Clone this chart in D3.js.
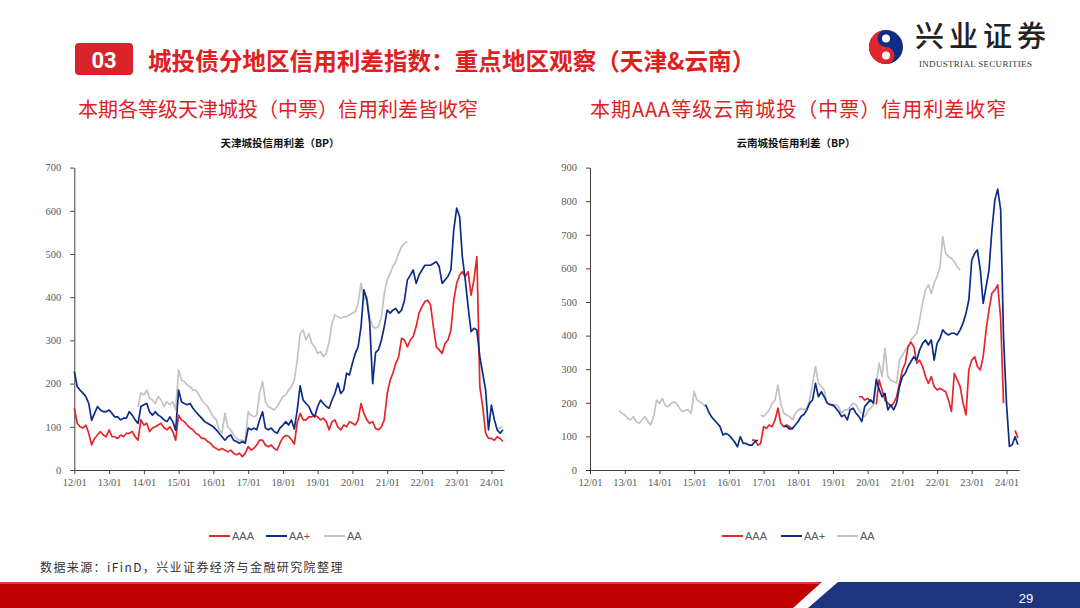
<!DOCTYPE html>
<html><head><meta charset="utf-8">
<script src="https://cdn.jsdelivr.net/npm/d3@7"></script>
<style>
html,body{margin:0;padding:0;background:#fff;}
svg{display:block;}
</style></head>
<body>
<svg id="s" width="1080" height="608"></svg>
<script>
// ---------- DATA ----------
const seriesNames = ["AAA","AA+","AA"];
const xTickLabels = ["12/01","13/01","14/01","15/01","16/01","17/01","18/01","19/01","20/01","21/01","22/01","23/01","24/01"];
const tjTicks = [0,100,200,300,400,500,600,700];
const ynTicks = [0,100,200,300,400,500,600,700,800,900];
const _ = null;
// monthly readings, Jan 2012 .. May 2024 (149 months)
const tjAAA = [143,108,100,97,104,85,58,73,81,89,81,77,
93,77,77,73,81,77,85,85,89,77,69,116,
104,108,89,97,100,104,108,97,93,100,89,69,
127,116,112,104,97,93,85,81,73,73,66,62,
54,50,46,50,46,42,46,39,35,39,31,39,
54,46,50,58,69,69,58,54,58,50,46,62,
75,80,78,70,60,110,131,116,116,123,123,127,
123,116,120,112,93,112,116,100,93,104,100,112,
108,104,116,154,131,116,108,112,96,93,100,116,
177,208,224,247,262,305,301,285,301,309,332,363,
378,390,393,382,332,285,278,270,293,301,324,393,
432,451,459,448,459,405,440,494,193,147,85,73,
73,69,77,73,66];
const tjAAp = [228,193,185,178,170,154,115,131,147,139,135,135,
139,131,123,123,116,120,120,135,127,116,108,147,
151,154,135,127,135,127,123,116,112,123,112,92,
185,158,154,151,154,143,135,127,120,112,108,104,
100,93,85,77,69,77,81,69,66,62,66,62,
97,93,97,93,116,135,97,93,97,89,85,97,
104,112,104,116,95,140,195,162,154,147,131,123,
147,162,154,147,143,162,177,201,177,185,224,220,
247,270,285,332,417,394,340,200,272,278,301,332,
370,363,370,374,363,370,393,440,451,463,432,451,
463,474,474,474,478,482,471,432,440,448,463,556,
606,586,494,440,378,320,328,324,262,224,185,93,
150,116,93,85,93];
const tjAA = [_,_,_,_,_,_,_,_,_,_,_,_,
_,_,_,_,_,_,_,_,_,_,147,178,
174,185,166,162,154,170,162,147,158,151,158,139,
232,208,205,197,193,185,185,174,162,154,147,135,
123,116,93,85,131,100,93,81,73,69,69,66,
135,127,123,127,178,205,158,147,143,139,147,158,
170,174,185,193,208,255,316,324,301,316,293,285,
270,274,262,270,295,340,359,355,351,355,355,359,
363,367,386,432,393,401,355,332,328,332,355,409,
440,455,471,482,502,517,525,529,_,_,_,_,
_,_,_,_,_,_,_,_,_,_,_,_,
_,_,_,_,_,_,_,_,_,_,_,_,
_,_,95,98,100];
const ynAAA = [_,_,_,_,_,_,_,_,_,_,_,_,
_,_,_,_,_,_,_,_,_,_,_,_,
_,_,_,_,_,_,_,_,_,_,_,_,
_,_,_,_,_,_,_,_,_,_,_,_,
_,_,_,_,_,_,_,_,89,89,74,79,
129,124,134,129,149,184,139,129,134,129,120,_,
_,_,_,_,_,_,_,_,_,_,_,_,
_,_,_,_,_,_,_,_,_,218,218,208,
213,203,_,195,268,238,208,199,189,199,218,258,
298,318,367,380,367,318,327,308,278,258,278,248,
238,243,238,233,208,174,288,268,248,199,164,298,
327,337,308,298,337,417,476,526,536,551,450,199,
_,_,_,118,95];
const ynAAp = [_,_,_,_,_,_,_,_,_,_,_,_,
_,_,_,_,_,_,_,_,_,_,_,_,
_,_,_,_,_,_,_,_,_,_,_,_,
_,_,_,_,195,174,159,149,139,129,104,109,
104,94,84,69,99,79,79,74,74,84,89,_,
_,_,_,_,_,_,_,130,130,122,124,134,
145,160,165,179,199,209,258,218,233,218,199,194,
194,184,174,159,164,149,179,184,169,159,144,189,
199,209,199,270,240,218,228,179,194,179,199,248,
278,288,308,323,337,327,357,377,387,372,387,327,
377,392,417,407,402,407,407,402,417,437,466,506,
625,645,655,595,496,546,595,714,804,836,774,397,
199,70,75,99,75];
const ynAA = [_,_,_,_,_,_,_,_,_,_,176,169,
164,154,149,159,144,139,149,159,144,134,159,208,
198,213,193,188,198,203,198,183,174,178,178,169,
233,208,203,198,188,_,_,_,_,_,_,_,
_,_,_,_,_,_,_,_,_,_,_,164,
159,169,178,198,208,253,198,169,164,159,149,169,
178,184,179,184,209,258,308,258,248,238,199,199,
189,194,189,169,179,179,189,199,194,179,169,159,
174,184,194,258,318,278,362,278,268,263,258,327,
342,357,367,387,397,407,447,496,536,551,526,556,
576,605,695,645,635,630,620,605,595,_,_,_,
_,_,_,_,_,_,_,_,_,_,_,_,
_,_,_,_,_];

// ---------- STYLE ----------
const C_RED = "#e3262b", C_NAVY = "#0d2c86", C_GRAY = "#c2c2c2";
const seriesColors = [C_RED, C_NAVY, C_GRAY];
const AX = "#595959";
const months = d3.timeMonth.range(new Date(2012,0,1), new Date(2024,5,1));
const svg = d3.select("#s");

// ---------- HEADER ----------
svg.append("rect").attr("x",75).attr("y",43).attr("width",58).attr("height",32).attr("rx",4).attr("fill","#d8232a");
svg.append("text").attr("x",104).attr("y",60).attr("text-anchor","middle").attr("dominant-baseline","central")
  .attr("font-family","Roboto, 'Liberation Sans', sans-serif").attr("font-weight","bold").attr("font-size",22).attr("fill","#fff").text("03");
svg.append("text").attr("x",148).attr("y",60).attr("dominant-baseline","central")
  .attr("font-family","'Noto Sans CJK SC', sans-serif").attr("font-weight","bold").attr("font-size",23.6).attr("fill","#e0201f")
  .text("城投债分地区信用利差指数：重点地区观察（天津&云南）");

// logo
const lg = svg.append("g").attr("transform","translate(886,47)");
lg.append("circle").attr("r",17).attr("fill",C_NAVY);
lg.append("path").attr("d","M0,-17 A17,17 0 0,0 0,17 A8.5,8.5 0 0,0 0,0 A8.5,8.5 0 0,1 0,-17 Z").attr("fill","#e3262b");
lg.append("circle").attr("cx",0).attr("cy",-8.5).attr("r",4).attr("fill","#fff");
lg.append("circle").attr("cx",0).attr("cy",8.5).attr("r",4).attr("fill","#fff");
svg.append("text").attr("x",915).attr("y",47).attr("font-family","'Noto Sans CJK SC', sans-serif").attr("font-weight","500")
  .attr("font-size",29).attr("letter-spacing",5).attr("fill","#222").text("兴业证券");
svg.append("text").attr("x",919).attr("y",67).attr("font-family","'Liberation Serif', serif")
  .attr("font-size",9).attr("letter-spacing",0.3).attr("fill","#333").text("INDUSTRIAL SECURITIES");

// subtitles
svg.append("text").attr("x",78).attr("y",108).attr("dominant-baseline","central")
  .attr("font-family","'Noto Sans CJK SC', sans-serif").attr("font-size",20).attr("fill","#e0201f")
  .text("本期各等级天津城投（中票）信用利差皆收窄");
svg.append("text").attr("x",590).attr("y",108).attr("dominant-baseline","central")
  .attr("font-family","'Noto Sans CJK SC', sans-serif").attr("font-size",20).attr("letter-spacing",1).attr("fill","#e0201f")
  .text("本期AAA等级云南城投（中票）信用利差收窄");

// ---------- CHARTS ----------
function chart(cfg){
  const g = svg.append("g");
  const x = d3.scaleTime().domain([new Date(2012,0,1), new Date(2024,4,12)]).range([cfg.x0, cfg.x1]);
  const y = d3.scaleLinear().domain([0, cfg.ymax]).range([470, 167.6]);
  g.append("text").attr("x",cfg.tx).attr("y",142).attr("text-anchor","middle").attr("dominant-baseline","central")
    .attr("font-family","'Noto Sans CJK SC', sans-serif").attr("font-weight","bold").attr("font-size",10.5).attr("fill","#111")
    .text(cfg.title);
  const yAxis = g.append("g").attr("transform",`translate(${cfg.x0},0)`)
    .call(d3.axisLeft(y).tickValues(cfg.ticks).tickSize(4).tickSizeOuter(0).tickPadding(9));
  const yearTicks = d3.timeYear.range(new Date(2012,0,1), new Date(2024,1,1));
  const xAxis = g.append("g").attr("transform","translate(0,470)")
    .call(d3.axisBottom(x).tickValues(yearTicks).tickSize(4).tickSizeOuter(0).tickPadding(5)
      .tickFormat((d,i)=>xTickLabels[i]));
  [yAxis,xAxis].forEach(a=>{
    a.select(".domain").attr("stroke","#404040").attr("stroke-width",1);
    a.selectAll(".tick line").attr("stroke","#404040");
    a.selectAll(".tick text").attr("fill",AX).attr("font-family","'Liberation Serif', serif").attr("font-size",10.5);
  });
  const line = d3.line().defined(d=>d[1]!=null).x(d=>x(d[0])).y(d=>y(d[1]));
  const order = [2,0,1];
  order.forEach(k=>{
    const data = months.map((m,i)=>[m, cfg.series[k][i]]);
    g.append("path").datum(data).attr("d",line).attr("fill","none")
      .attr("stroke",seriesColors[k]).attr("stroke-width",1.7).attr("stroke-linejoin","round");
  });
  // legend
  const lgd = g.append("g");
  cfg.legendX.forEach((lx,k)=>{
    lgd.append("line").attr("x1",lx).attr("x2",lx+21).attr("y1",536).attr("y2",536)
      .attr("stroke",seriesColors[k]).attr("stroke-width",2);
    lgd.append("text").attr("x",lx+23).attr("y",536).attr("dominant-baseline","central")
      .attr("font-family","'Liberation Sans Narrow','Liberation Sans', sans-serif").attr("font-size",11).attr("fill",AX)
      .text(seriesNames[k]);
  });
}
chart({x0:74.3, x1:504, ymax:700, ticks:tjTicks, tx:280, title:"天津城投信用利差（BP）",
  series:[tjAAA,tjAAp,tjAA], legendX:[209,266,324]});
chart({x0:590, x1:1019, ymax:900, ticks:ynTicks, tx:796, title:"云南城投信用利差（BP）",
  series:[ynAAA,ynAAp,ynAA], legendX:[722,781,837]});

// ---------- FOOTER ----------
svg.append("text").attr("x",40).attr("y",566).attr("dominant-baseline","central")
  .attr("font-family","'Noto Sans CJK SC', sans-serif").attr("font-size",12).attr("letter-spacing",1.4).attr("fill","#333")
  .text("数据来源：iFinD，兴业证券经济与金融研究院整理");
svg.append("path").attr("d","M0,582 L822,582 L793,608 L0,608 Z").attr("fill","#c00000");
svg.append("path").attr("d","M838,582 L1080,582 L1080,608 L808,608 Z").attr("fill","#1e347f");
svg.append("rect").attr("x",0).attr("y",582).attr("width",820).attr("height",2).attr("fill","#e06060").attr("opacity",0.6);
svg.append("text").attr("x",1026).attr("y",598).attr("text-anchor","middle").attr("dominant-baseline","central")
  .attr("font-family","'Liberation Sans', sans-serif").attr("font-size",13).attr("fill","#fff").text("29");
</script>
</body></html>
